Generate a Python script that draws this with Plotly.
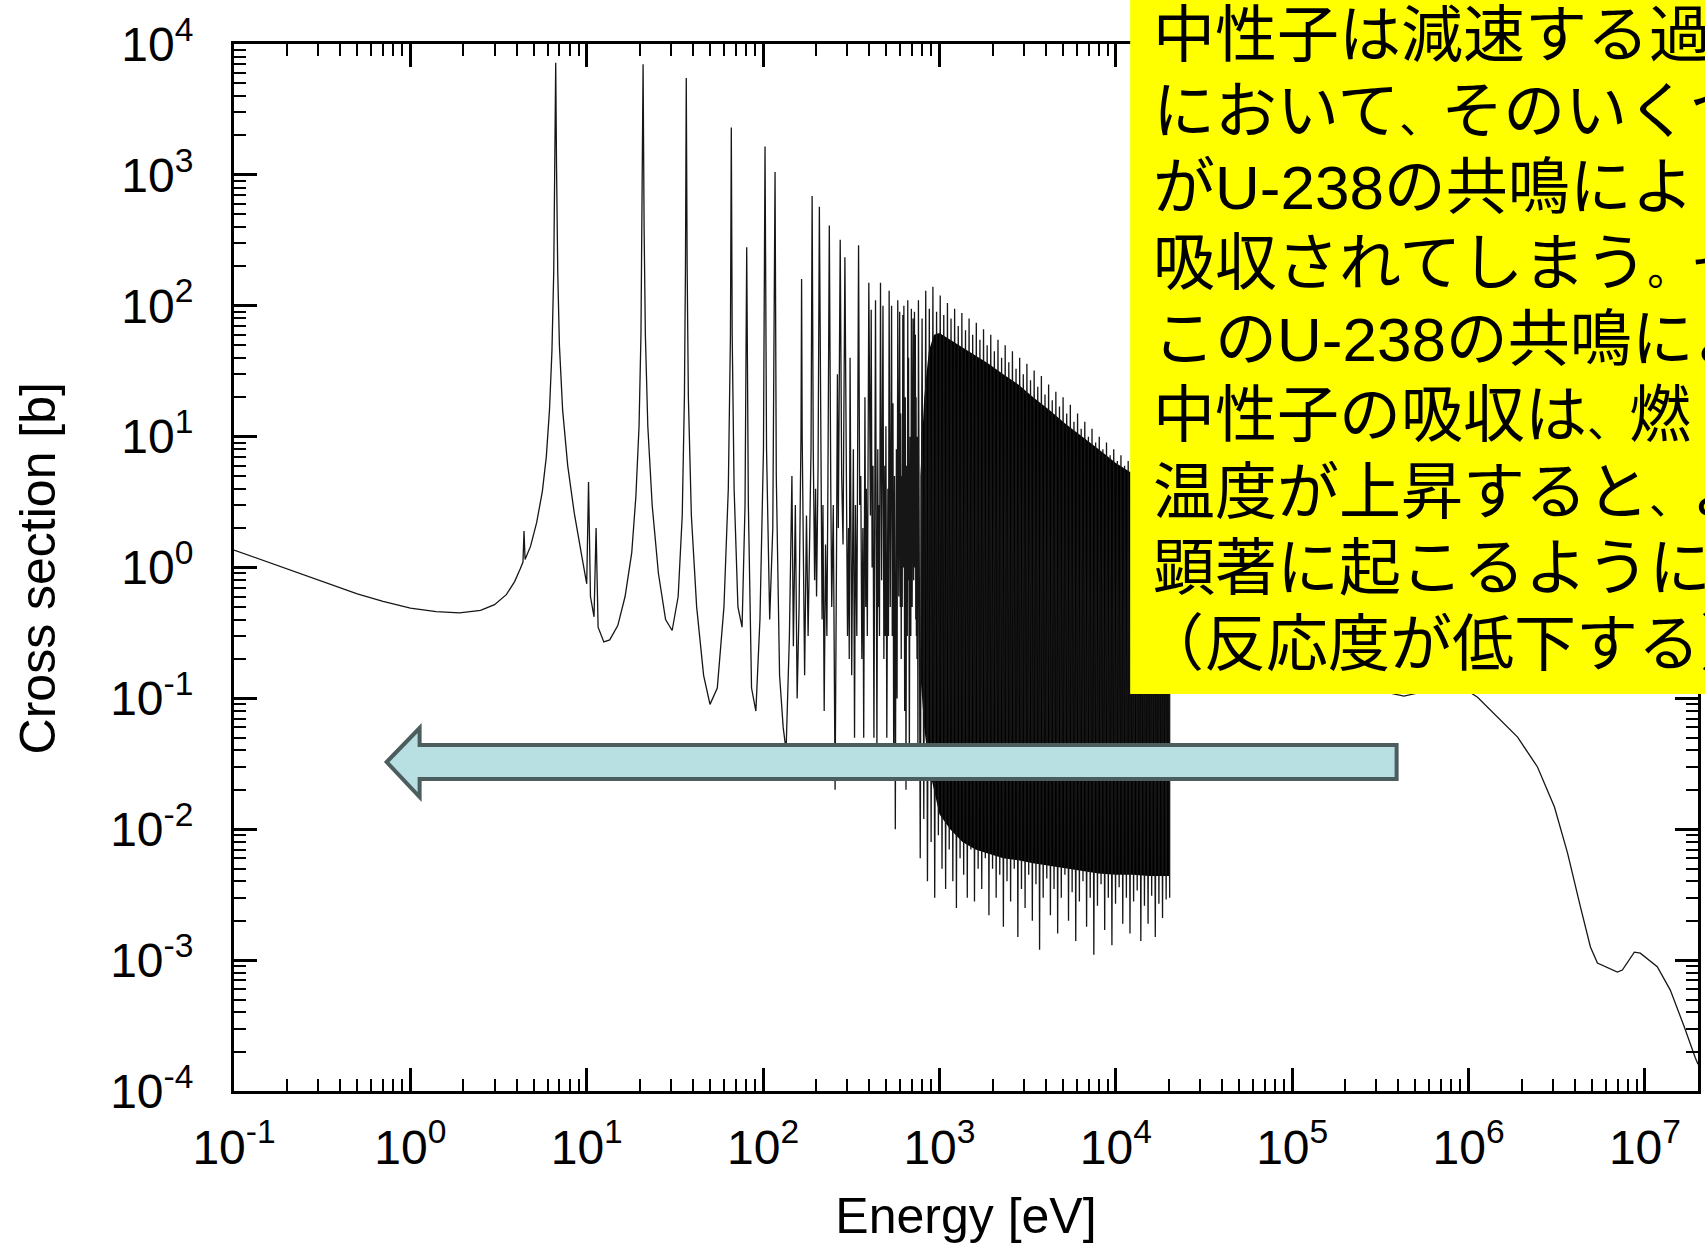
import plotly.graph_objects as go

# ---------------- data ----------------
# low-energy region and the first, well separated resonances
energy_low = [0.1, 0.13, 0.2, 0.3, 0.5, 0.7, 1.0, 1.4, 1.9, 2.5, 3.0, 3.5, 3.9, 4.2, 4.35, 4.41, 4.47,
              4.8, 5.2, 5.6, 5.9, 6.15, 6.35, 6.5, 6.6, 6.67, 6.74, 6.85, 7.0, 7.3, 7.8, 8.5, 9.3,
              10.0, 10.24, 10.5, 11.0, 11.3, 11.6, 12.5, 13.5, 15.0, 16.5, 18.0, 19.0, 19.8, 20.3,
              20.6, 20.87, 21.15, 21.5, 22.2, 23.5, 25.5, 28.0, 30.5, 33.0, 34.8, 35.8, 36.3, 36.68,
              37.1, 37.7, 39.2, 42.0, 46.0, 50.0, 55.0, 60.0, 63.5, 65.3, 66.03, 66.8, 68.5, 72.0,
              76.0, 79.0, 80.75, 82.5, 86.0, 91.0, 96.0, 100.5, 102.56, 104.6, 109.0, 113.5, 116.9,
              118.8, 124.0, 130.0]
sigma_low = [1.36, 1.2, 0.97, 0.8, 0.63, 0.55, 0.49, 0.46, 0.45, 0.47, 0.52, 0.62, 0.78, 0.98, 1.1, 1.9, 1.15,
             1.45, 2.2, 3.8, 7.0, 16, 45, 180, 1200, 7200, 1200, 180, 50, 16, 6.0, 2.6, 1.3,
             0.75, 4.5, 0.6, 0.42, 2.0, 0.35, 0.27, 0.28, 0.36, 0.6, 1.3, 3.5, 12, 60,
             400, 7000, 400, 60, 12, 3.0, 0.9, 0.4, 0.33, 0.6, 2.5, 20, 200, 5500,
             200, 20, 2.5, 0.5, 0.15, 0.09, 0.12, 0.5, 4.0, 60, 2300, 60, 4.0, 0.5,
             0.35, 3.0, 280, 3.0, 0.12, 0.08, 0.4, 8.0, 1650, 8.0, 0.4, 2.0, 1050,
             5.0, 0.15, 0.06]

# resonance forest 130 - 760 eV
energy_mid = [135, 141, 145.7, 148.5, 152.4, 156, 160, 164, 165.3, 166.6, 172, 176.2, 180, 187, 189.7,
              192.5, 196, 198.5, 201, 205, 208.5, 212, 216, 218.5, 222, 226, 230, 233, 237.4, 242, 245,
              250, 256, 261, 263.9, 267, 273.7, 279, 284, 291.0, 297, 301, 305, 308, 311.3, 318, 325,
              330, 334, 340, 347.8, 353, 358, 363, 368, 372, 378, 382, 385, 390, 397.6, 403, 406,
              410.2, 415, 420, 425, 434, 442, 447, 450, 453, 457, 463.1, 470, 478.3, 484, 490, 493,
              497, 503, 510, 514, 518.4, 526, 535.3, 540, 545, 550, 556, 562, 570, 575, 580.2, 588,
              594.9, 600, 603, 607, 610, 615, 619.9, 624, 628.5, 635, 640, 646, 652, 657, 661.2, 665,
              668, 675, 682, 688, 693.1, 700, 708.4, 714, 721.6, 726, 730.1, 734, 737, 740, 742, 746,
              750, 755]
sigma_mid = [0.04, 0.3, 5, 0.25, 3, 0.1, 0.5, 10, 160, 10, 0.15, 2.5, 0.3, 8, 690,
             8, 0.8, 4, 0.6, 6, 570, 6, 0.4, 3, 0.08, 1.5, 0.3, 4, 410, 4, 0.5,
             3, 0.02, 1.5, 30, 2, 320, 5, 1.5, 235, 1.5, 0.3, 2, 0.2, 40, 0.15, 8,
             0.05, 3, 0.3, 290, 3, 5, 0.2, 2, 0.05, 20, 0.5, 4, 0.3, 150, 3, 2.5,
             93, 1.0, 6, 0.05, 110, 0.04, 8, 0.5, 3, 0.3, 150, 0.8, 100, 0.2, 6, 0.3,
             12, 0.05, 4, 0.3, 130, 0.5, 100, 0.3, 18, 0.04, 5, 0.01, 8, 0.1, 110, 0.6,
             90, 0.5, 15, 0.2, 5, 0.5, 85, 1.0, 100, 0.08, 20, 0.02, 6, 0.3, 110, 0.8,
             40, 0.03, 10, 0.3, 95, 0.5, 80, 0.8, 90, 1.0, 60, 0.4, 20, 0.3, 6, 0.2,
             10, 0.04]

# dense forest 0.76 - 20.2 keV (peak / valley pairs)
energy_dense = [760, 778, 797, 815, 836, 855, 876, 897, 918, 940, 963, 986, 1010, 1034, 1058, 1084,
                1110, 1136, 1163, 1191, 1219, 1248, 1278, 1309, 1340, 1372, 1405, 1438, 1472, 1507,
                1543, 1580, 1618, 1657, 1696, 1737, 1778, 1820, 1864, 1908, 1954, 2000, 2048, 2097,
                2147, 2198, 2251, 2304, 2359, 2416, 2473, 2532, 2593, 2655, 2718, 2783, 2850, 2918,
                2988, 3059, 3132, 3207, 3284, 3362, 3443, 3525, 3609, 3696, 3784, 3874, 3967, 4062,
                4159, 4258, 4360, 4464, 4571, 4680, 4792, 4907, 5024, 5144, 5267, 5393, 5522, 5654,
                5789, 5927, 6069, 6214, 6362, 6514, 6670, 6829, 6992, 7159, 7330, 7506, 7685, 7869,
                8057, 8249, 8446, 8648, 8854, 9066, 9282, 9504, 9731, 9963, 10200, 10444, 10693,
                10949, 11210, 11478, 11752, 12033, 12320, 12614, 12916, 13224, 13540, 13863, 14194,
                14533, 14880, 15235, 15599, 15971, 16353, 16743, 17143, 17552, 17971, 18400, 18840,
                19290, 19750, 20200]
sigma_dense = [110, 0.006, 80, 0.012, 130, 0.004, 95, 0.008, 140, 0.003, 90, 0.009, 120, 0.005, 85, 0.0035,
               105, 0.007, 80, 0.004, 95, 0.0025, 70, 0.006, 88, 0.0045, 65, 0.003, 80, 0.007,
               60, 0.0028, 74, 0.005, 55, 0.0035, 66, 0.006, 50, 0.0022, 60, 0.005, 45, 0.003,
               55, 0.0045, 40, 0.0018, 50, 0.004, 37, 0.0028, 45, 0.005, 33, 0.0015, 40, 0.0035,
               30, 0.0025, 36, 0.0045, 27, 0.002, 32, 0.0038, 24, 0.0012, 29, 0.003, 21, 0.0042,
               25, 0.0022, 19, 0.0035, 22, 0.0016, 17, 0.003, 20, 0.0045, 15, 0.002, 17.5, 0.0033,
               13, 0.0014, 15, 0.0028, 11.5, 0.004, 13, 0.0018, 10, 0.003, 11.5, 0.0011, 9, 0.0026,
               10, 0.0038, 8, 0.0017, 9, 0.003, 7.2, 0.0013, 8, 0.0027, 6.5, 0.0036, 7.2,
               0.0019, 6, 0.003, 6.5, 0.0016, 5.3, 0.0028, 5.9, 0.0034, 4.8, 0.0014, 5.4,
               0.0026, 4.4, 0.0019, 4.9, 0.0031, 4.0, 0.0015, 4.5, 0.0027, 3.8, 0.0021, 4.2,
               0.0029, 3.6, 0.003]

# smooth high-energy tail
energy_tail = [20200, 30000, 50000, 80000, 120000, 200000, 300000, 430000, 600000, 800000, 1000000,
               1125000, 1897000, 2460000, 3070000, 3640000, 4310000, 4910000, 5380000, 6980000,
               7450000, 8710000, 9420000, 11750000, 13930000, 16710000, 19280000, 20000000]
sigma_tail = [0.55, 0.45, 0.32, 0.22, 0.17, 0.13, 0.115, 0.104, 0.115, 0.12, 0.113,
              0.102, 0.0506, 0.0299, 0.0148, 0.0066, 0.00255, 0.00126, 0.00095, 0.00081,
              0.00084, 0.00115, 0.00113, 0.00089, 0.00059, 0.00031, 0.00018, 0.00016]

# envelope of the solid black part of the resonance forest
band_energy = [780, 820, 870, 930, 1000, 1150, 1350, 1600, 1900, 2300, 2800, 3400, 4200, 5200, 6500,
               8000, 10000, 12500, 15500, 18000, 20200]
band_upper = [5, 20, 45, 60, 62, 55, 48, 42, 36, 30, 25, 20, 16, 12.5, 10, 8, 6.3, 5.2, 4.4, 3.9, 3.5]
band_lower = [0.15, 0.06, 0.03, 0.02, 0.013, 0.01, 0.008, 0.007, 0.0065, 0.006, 0.0058, 0.0055,
              0.0052, 0.005, 0.0048, 0.0046, 0.0045, 0.0045, 0.0044, 0.0044, 0.0044]

x_tick_exp = [-1, 0, 1, 2, 3, 4, 5, 6, 7]
y_tick_exp = [-4, -3, -2, -1, 0, 1, 2, 3, 4]
x_tick_labels = ["10<sup>%d</sup>" % k for k in x_tick_exp]
y_tick_labels = ["10<sup>%d</sup>" % k for k in y_tick_exp]

note_lines = ["中性子は減速する過", "において、そのいくつ", "がU-238の共鳴によ", "吸収されてしまう。そ",
              "このU-238の共鳴によ", "中性子の吸収は、燃", "温度が上昇すると、よ", "顕著に起こるようにな",
              "（反応度が低下する）"]

# ---------------- figure ----------------
W, H = 1705, 1244
PL, PR, PT, PB = 234, 1701, 44, 1091
FONT = "Liberation Sans, Arial"


def paper(x, y):
    return (x - PL) / (PR - PL), (PB - y) / (PB - PT)


def narrow_punct(s):
    for ch in "、。":
        s = s.replace(ch, '<span style="font-size:42px">%s</span>' % ch)
    return s


energy = energy_low + energy_mid + energy_dense + energy_tail
sigma = sigma_low + sigma_mid + sigma_dense + sigma_tail

fig = go.Figure()
fig.add_trace(go.Scatter(
    x=band_energy + band_energy[::-1], y=band_upper + band_lower[::-1],
    fill="toself", fillcolor="black", mode="lines", line=dict(width=0, color="black"),
    hoverinfo="skip", showlegend=False))
fig.add_trace(go.Scatter(x=energy, y=sigma, mode="lines",
                         line=dict(color="#161616", width=1.3), showlegend=False))

x_minor = [m * 10 ** k for k in range(-1, 8) for m in range(2, 10) if m * 10 ** k <= 2e7]
y_minor = [m * 10 ** k for k in range(-4, 4) for m in range(2, 10)]

axis_common = dict(type="log", showline=True, linecolor="black", linewidth=3, mirror="ticks",
                   ticks="inside", ticklen=23, tickwidth=2.5, tickcolor="black",
                   showgrid=False, zeroline=False,
                   tickfont=dict(family=FONT, size=48, color="black"))

fig.update_xaxes(**axis_common, range=[-1, 7.30103],
                 tickmode="array", tickvals=[10 ** k for k in x_tick_exp], ticktext=x_tick_labels,
                 minor=dict(tickmode="array", tickvals=x_minor, ticks="inside", ticklen=12,
                            tickwidth=2, tickcolor="black", showgrid=False),
                 ticklabelstandoff=12,
                 title=dict(text="Energy [eV]", standoff=27,
                            font=dict(family=FONT, size=50, color="black")))
fig.update_yaxes(**axis_common, range=[-4, 4],
                 tickmode="array", tickvals=[10 ** k for k in y_tick_exp], ticktext=y_tick_labels,
                 minor=dict(tickmode="array", tickvals=y_minor, ticks="inside", ticklen=12,
                            tickwidth=2, tickcolor="black", showgrid=False),
                 ticklabelstandoff=28)

# y-axis title
yx, yy = paper(38, 568)
fig.add_annotation(xref="paper", yref="paper", x=yx, y=yy, xanchor="center", yanchor="middle",
                   textangle=-90, showarrow=False, text="Cross section [b]",
                   font=dict(family=FONT, size=50, color="black"))

# yellow note box
bx0, by0 = paper(1132, 694)
bx1, by1 = paper(1760, -20)
fig.add_shape(type="rect", xref="paper", yref="paper", x0=bx0, x1=bx1, y0=by0, y1=by1,
              fillcolor="#FFFF00", line=dict(width=0), layer="above")
for i, line in enumerate(note_lines):
    tx, ty = paper(1153, 35 + 76.2 * i)
    fig.add_annotation(xref="paper", yref="paper", x=tx, y=ty, xanchor="left", yanchor="middle",
                       align="left", showarrow=False, text=narrow_punct(line),
                       xshift=-11 if line.startswith("（") else 0,
                       font=dict(family="Liberation Sans, Noto Sans CJK JP", size=62, color="black"))

# block arrow (pointing to lower energies)
arrow_px = [(387, 762), (420, 728), (420, 745), (1399, 745), (1399, 779), (420, 779), (420, 797)]
pts = [paper(x, y) for x, y in arrow_px]
path = "M " + " L ".join("%.5f,%.5f" % p for p in pts) + " Z"
fig.add_shape(type="path", xref="paper", yref="paper", path=path,
              fillcolor="#B8DFE2", line=dict(color="#4C5D5E", width=4), layer="above")

fig.update_layout(width=W, height=H, margin=dict(l=PL, r=W - PR, t=PT, b=H - PB),
                  paper_bgcolor="white", plot_bgcolor="white", showlegend=False)

fig.write_html("out.html")
